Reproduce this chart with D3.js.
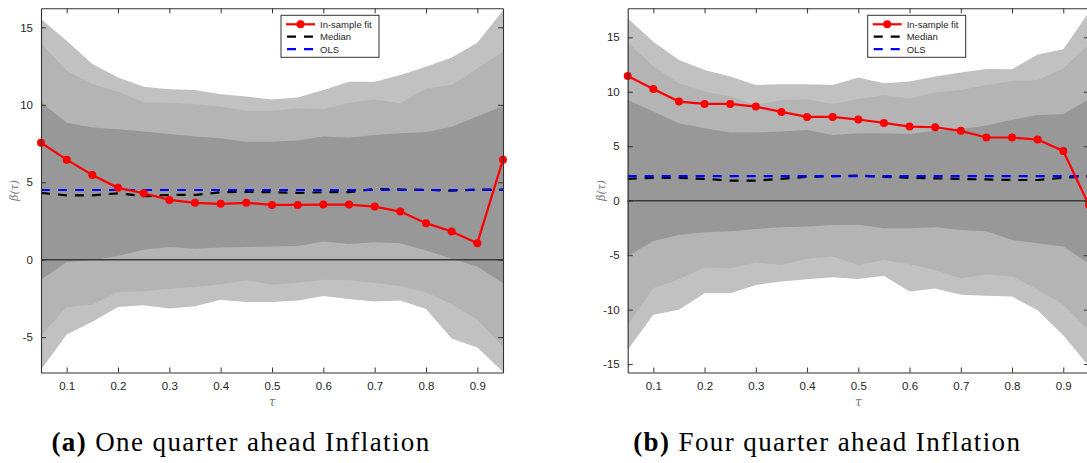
<!DOCTYPE html>
<html>
<head>
<meta charset="utf-8">
<script src="https://cdn.jsdelivr.net/npm/d3@7"></script>
<style>
  html, body { margin: 0; padding: 0; background: #ffffff; }
  svg { display: block; }
</style>
</head>
<body>
<svg id="sketchbook" width="1087" height="463"></svg>
<script>
// quantiles on the x axis
const tau = [0.05, 0.10, 0.15, 0.20, 0.25, 0.30, 0.35, 0.40, 0.45, 0.50,
             0.55, 0.60, 0.65, 0.70, 0.75, 0.80, 0.85, 0.90, 0.95];
const xTicks = [0.1, 0.2, 0.3, 0.4, 0.5, 0.6, 0.7, 0.8, 0.9];

// (a) one quarter ahead
const fitA    = [7.55, 6.46, 5.47, 4.64, 4.29, 3.86, 3.67, 3.61, 3.67, 3.54,
                 3.54, 3.56, 3.56, 3.43, 3.11, 2.36, 1.82, 1.07, 6.46];
const medianA = [4.31, 4.16, 4.16, 4.29, 4.10, 4.18, 4.18, 4.36, 4.38, 4.36,
                 4.31, 4.36, 4.36, 4.57, 4.53, 4.51, 4.46, 4.53, 4.53];
const olsA    = [4.5, 4.5, 4.5, 4.5, 4.5, 4.5, 4.5, 4.5, 4.5, 4.5,
                 4.5, 4.5, 4.5, 4.5, 4.5, 4.5, 4.5, 4.5, 4.5];
const outerHiA = [15.54, 14.14, 12.63, 11.77, 11.17, 11.00, 10.96, 10.68, 10.53, 10.35,
                  10.48, 10.96, 11.49, 11.49, 11.92, 12.46, 13.06, 14.01, 16.10];
const midHiA   = [13.97, 12.20, 11.34, 10.85, 10.16, 10.14, 10.05, 9.88, 9.62, 9.62,
                  9.77, 9.71, 10.14, 10.35, 10.10, 11.06, 11.28, 12.35, 13.43];
const innerHiA = [10.16, 8.85, 8.53, 8.42, 8.27, 8.12, 7.95, 7.84, 7.62, 7.62,
                  7.69, 7.95, 7.88, 8.05, 8.16, 8.23, 8.59, 9.24, 9.92];
const innerLoA = [-1.29, -0.15, -0.04, 0.24, 0.64, 0.82, 0.71, 0.79, 0.82, 0.86,
                  0.88, 1.18, 1.01, 1.12, 1.07, 0.60, 0.06, -0.43, -1.50];
const midLoA   = [-4.91, -3.05, -2.90, -2.08, -2.04, -1.87, -1.76, -1.59, -1.33, -1.61,
                  -1.48, -1.29, -1.33, -1.50, -1.70, -2.10, -2.88, -3.86, -5.62];
const outerLoA = [-7.10, -4.83, -4.01, -3.05, -2.94, -3.15, -3.00, -2.58, -2.73, -2.73,
                  -2.64, -2.34, -2.53, -2.70, -2.64, -3.18, -5.09, -5.67, -7.23];
const yTicksA = [-5, 0, 5, 10, 15];

// (b) four quarter ahead
const fitB    = [11.45, 10.26, 9.10, 8.88, 8.88, 8.64, 8.15, 7.69, 7.69, 7.45,
                 7.14, 6.80, 6.74, 6.41, 5.80, 5.80, 5.61, 4.57, -0.40];
const medianB = [2.00, 2.10, 2.10, 2.00, 1.85, 1.85, 2.00, 2.20, 2.25, 2.30,
                 2.20, 2.10, 2.05, 2.00, 1.95, 1.90, 1.90, 2.10, 2.25];
const olsB    = [2.25, 2.25, 2.25, 2.25, 2.25, 2.25, 2.25, 2.25, 2.25, 2.25,
                 2.25, 2.25, 2.25, 2.25, 2.25, 2.25, 2.25, 2.25, 2.25];
const outerHiB = [16.74, 14.60, 12.92, 12.00, 11.39, 10.63, 10.69, 10.69, 10.63, 11.30,
                  10.78, 10.93, 11.39, 11.76, 12.09, 12.06, 13.43, 13.90, 17.30];
const midHiB   = [14.54, 12.31, 10.78, 10.02, 9.56, 8.79, 9.25, 9.31, 8.88, 9.34,
                  9.68, 9.37, 9.92, 10.17, 10.63, 10.98, 11.07, 12.14, 14.40];
const innerHiB = [9.25, 8.18, 7.11, 6.65, 6.25, 6.25, 6.35, 6.50, 6.04, 6.19,
                  6.19, 6.13, 6.41, 6.56, 6.90, 7.42, 7.87, 7.94, 9.31];
const innerLoB = [-5.07, -3.69, -3.15, -2.90, -2.81, -2.60, -2.44, -2.38, -2.23, -2.20,
                  -2.53, -2.53, -2.44, -2.69, -2.81, -3.60, -3.91, -4.21, -5.74];
const midLoB   = [-11.39, -8.03, -7.21, -6.11, -6.20, -5.68, -5.89, -5.34, -5.13, -5.89,
                  -5.44, -5.83, -6.35, -7.15, -6.75, -6.96, -8.18, -9.56, -11.90];
const outerLoB = [-13.68, -10.47, -10.02, -8.49, -8.49, -7.73, -7.42, -7.21, -7.02, -7.18,
                  -6.90, -8.34, -8.06, -8.64, -8.73, -8.80, -10.05, -12.35, -15.20];
const yTicksB = [-15, -10, -5, 0, 5, 10, 15];

const legendLabels = ['In-sample fit', 'Median', 'OLS'];

const AXIS_COLOR = '#333333';
const TICK_FONT = '"Liberation Sans", Arial, Helvetica, sans-serif';

function drawPanel (svg, p) {
    let x = d3.scaleLinear().domain([0.05, 0.95]).range([p.left, p.right]);
    let y = d3.scaleLinear().domain(p.yDomain).range([p.bottom, p.top]);

    let g = svg.append('g').attr('class', 'panel ' + p.code);

    // confidence bands, widest first
    let bands = [
        { code: 'outer', lo: p.outerLo, hi: p.outerHi, fill: '#c1c1c1' },
        { code: 'mid',   lo: p.midLo,   hi: p.midHi,   fill: '#b4b4b4' },
        { code: 'inner', lo: p.innerLo, hi: p.innerHi, fill: '#989898' },
    ];
    let area = d3.area()
        .x((d) => { return x(d.t); })
        .y0((d) => { return y(d.lo); })
        .y1((d) => { return y(d.hi); });

    g.selectAll('path.band')
        .data(bands)
        .enter()
        .append('path')
        .attr('class', (d) => { return 'band ' + d.code; })
        .attr('d', (d) => {
            return area(tau.map((t, i) => { return { t: t, lo: d.lo[i], hi: d.hi[i] }; }));
        })
        .attr('fill', (d) => { return d.fill; })
        .attr('stroke', 'none');

    // zero line
    g.append('line')
        .attr('x1', p.left).attr('x2', p.right)
        .attr('y1', y(0)).attr('y2', y(0))
        .attr('stroke', '#3a3a3a')
        .attr('stroke-width', 1.4);

    let line = d3.line()
        .x((d) => { return x(d.t); })
        .y((d) => { return y(d.v); });
    let pts = (arr) => { return tau.map((t, i) => { return { t: t, v: arr[i] }; }); };

    g.append('path')
        .attr('d', line(pts(p.median)))
        .attr('fill', 'none')
        .attr('stroke', '#000000')
        .attr('stroke-width', 2.2)
        .attr('stroke-dasharray', '9,8');

    g.append('path')
        .attr('d', line(pts(p.ols)))
        .attr('fill', 'none')
        .attr('stroke', '#0000ff')
        .attr('stroke-width', 2.2)
        .attr('stroke-dasharray', '9,8');

    g.append('path')
        .attr('d', line(pts(p.fit)))
        .attr('fill', 'none')
        .attr('stroke', '#ff0000')
        .attr('stroke-width', 2.2);

    g.selectAll('circle.fit')
        .data(pts(p.fit))
        .enter()
        .append('circle')
        .attr('class', 'fit')
        .attr('cx', (d) => { return x(d.t); })
        .attr('cy', (d) => { return y(d.v); })
        .attr('r', 4)
        .attr('fill', '#ff0000');

    // axes, ticks inward on all four sides
    let plain = (d) => { return String(d); };
    let bottomAxis = d3.axisBottom(x).tickValues(xTicks).tickSizeInner(-5).tickSizeOuter(0).tickPadding(9);
    let topAxis    = d3.axisTop(x).tickValues(xTicks).tickSizeInner(-5).tickSizeOuter(0).tickFormat('');
    let leftAxis   = d3.axisLeft(y).tickValues(p.yTicks).tickSizeInner(-5).tickSizeOuter(0).tickPadding(8).tickFormat(plain);
    let rightAxis  = d3.axisRight(y).tickValues(p.yTicks).tickSizeInner(-5).tickSizeOuter(0).tickFormat('');

    let axes = [
        { ax: bottomAxis, tr: 'translate(0,' + p.bottom + ')' },
        { ax: topAxis,    tr: 'translate(0,' + p.top + ')' },
        { ax: leftAxis,   tr: 'translate(' + p.left + ',0)' },
        { ax: rightAxis,  tr: 'translate(' + p.right + ',0)' },
    ];
    axes.forEach((a) => {
        let ag = g.append('g').attr('transform', a.tr).call(a.ax);
        ag.selectAll('path.domain').attr('stroke', AXIS_COLOR).attr('stroke-width', 1.1);
        ag.selectAll('line').attr('stroke', AXIS_COLOR).attr('stroke-width', 1);
        ag.selectAll('text')
            .attr('fill', '#262626')
            .style('font-family', TICK_FONT)
            .style('font-size', '11.5px');
    });

    // axis titles
    g.append('text')
        .attr('transform', 'translate(' + (p.left - 23) + ',' + ((p.top + p.bottom) / 2) + ') rotate(-90)')
        .attr('text-anchor', 'middle')
        .attr('fill', '#7a7a7a')
        .style('font-family', '"DejaVu Serif", serif')
        .style('font-style', 'italic')
        .style('font-size', '11px')
        .text('\u03B2(\u03C4)');

    g.append('text')
        .attr('x', (p.left + p.right) / 2)
        .attr('y', p.bottom + 33)
        .attr('text-anchor', 'middle')
        .attr('fill', '#7a7a7a')
        .style('font-family', '"DejaVu Serif", serif')
        .style('font-style', 'italic')
        .style('font-size', '12px')
        .text('\u03C4');

    // legend
    let lx = p.left + 240;
    let ly = p.top + 7;
    let lg = g.append('g').attr('class', 'legend').attr('transform', 'translate(' + lx + ',' + ly + ')');
    lg.append('rect')
        .attr('x', 0).attr('y', 0)
        .attr('width', 98).attr('height', 42)
        .attr('fill', '#ffffff')
        .attr('stroke', AXIS_COLOR)
        .attr('stroke-width', 1);

    let entries = [
        { label: legendLabels[0], color: '#ff0000', dash: null, marker: true },
        { label: legendLabels[1], color: '#000000', dash: '9,8', marker: false },
        { label: legendLabels[2], color: '#0000ff', dash: '9,8', marker: false },
    ];
    let rows = lg.selectAll('g.entry')
        .data(entries)
        .enter()
        .append('g')
        .attr('class', 'entry')
        .attr('transform', (d, i) => { return 'translate(0,' + (9 + i * 12.4) + ')'; });
    rows.append('line')
        .attr('x1', 5).attr('x2', 34)
        .attr('y1', 0).attr('y2', 0)
        .attr('stroke', (d) => { return d.color; })
        .attr('stroke-width', 2.2)
        .attr('stroke-dasharray', (d) => { return d.dash; })
        .attr('stroke-dashoffset', -1);
    rows.filter((d) => { return d.marker; })
        .append('circle')
        .attr('cx', 19.5).attr('cy', 0).attr('r', 4)
        .attr('fill', '#ff0000');
    rows.append('text')
        .attr('x', 39).attr('y', 3.5)
        .attr('fill', '#262626')
        .style('font-family', TICK_FONT)
        .style('font-size', '9.5px')
        .text((d) => { return d.label; });

    // caption
    let cap = svg.append('text')
        .attr('x', (p.left + p.right) / 2 - 31)
        .attr('y', 451)
        .attr('text-anchor', 'middle')
        .attr('fill', '#000000')
        .style('font-family', '"Liberation Serif", "Times New Roman", serif')
        .style('font-size', '27px')
        .style('letter-spacing', '1.4px');
    cap.append('tspan').style('font-weight', 'bold').text(p.tag);
    cap.append('tspan').text('\u00A0' + p.caption);
}

let svg = d3.select('#sketchbook');

drawPanel(svg, {
    code: 'a', tag: '(a)', caption: 'One quarter ahead Inflation',
    left: 41, right: 503, top: 8.3, bottom: 372.5,
    yDomain: [-7.28, 16.23], yTicks: yTicksA,
    fit: fitA, median: medianA, ols: olsA,
    outerLo: outerLoA, outerHi: outerHiA,
    midLo: midLoA, midHi: midHiA,
    innerLo: innerLoA, innerHi: innerHiA
});

drawPanel(svg, {
    code: 'b', tag: '(b)', caption: 'Four quarter ahead Inflation',
    left: 627.7, right: 1088.9, top: 8.3, bottom: 372.5,
    yDomain: [-15.77, 17.66], yTicks: yTicksB,
    fit: fitB, median: medianB, ols: olsB,
    outerLo: outerLoB, outerHi: outerHiB,
    midLo: midLoB, midHi: midHiB,
    innerLo: innerLoB, innerHi: innerHiB
});
</script>
</body>
</html>
